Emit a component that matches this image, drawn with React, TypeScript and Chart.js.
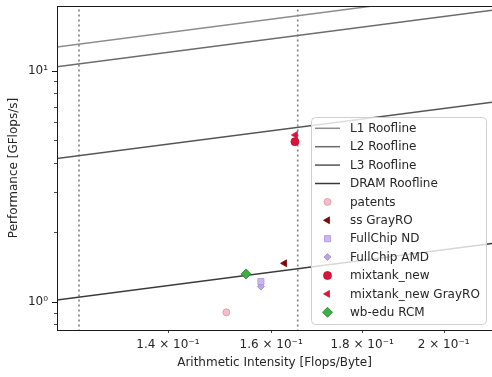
import React, { useEffect, useRef } from 'react';
import { Chart, registerables } from 'chart.js';

Chart.register(...registerables);

// ---- data ----
const intensityRange = [0.12, 0.22];
const l1Perf = [12.56, 23.03];
const l2Perf = [10.32, 18.92];
const l3Perf = [4.13, 7.57];
const dramPerf = [1.008, 1.848];
const ridgeX = [0.1248, 0.1656];
const perfSpan = [0.5, 30];

const rooflineNames = ['L1 Roofline', 'L2 Roofline', 'L3 Roofline', 'DRAM Roofline'];
const kernelNames = ['patents', 'ss GrayRO', 'FullChip ND', 'FullChip AMD', 'mixtank_new', 'mixtank_new GrayRO', 'wb-edu RCM'];
const kernelAI = [0.151, 0.1628, 0.1579, 0.1579, 0.165, 0.1651, 0.1549];
const kernelPerf = [0.902, 1.47, 1.224, 1.165, 4.94, 5.28, 1.322];

const xTicks = [0.14, 0.16, 0.18, 0.2];
const xTickLabels = ['1.4 × 10⁻¹', '1.6 × 10⁻¹', '1.8 × 10⁻¹', '2 × 10⁻¹'];
const yMajor = [1, 10];
const yMajorLabels = ['10⁰', '10¹'];
const yMinor = [0.8, 0.9, 2, 3, 4, 5, 6, 7, 8, 9];

const xMin = 0.1213;
const xMax = 0.2129;
const yMin = 0.756;
const yMax = 19.1;

// ---- styles ----
const FONT = '"DejaVu Sans", sans-serif';
const TEXT = '#262626';
const lineColors = ['#8c8c8c', '#6b6b6b', '#555555', '#3a3a3a'];
type Mk = { style: string; r: number; fill: string; stroke: string; rot: number };
const kernelStyles: Mk[] = [
  { style: 'circle', r: 3.5, fill: '#f6bccb', stroke: '#d895a6', rot: 0 },
  { style: 'triangle', r: 4, fill: '#7a0a0a', stroke: '#7a0a0a', rot: -90 },
  { style: 'rect', r: 4.3, fill: '#cbb6f2', stroke: '#a892dc', rot: 0 },
  { style: 'rectRot', r: 3.5, fill: '#b9a6e2', stroke: '#9a86cc', rot: 0 },
  { style: 'circle', r: 4, fill: '#dc143c', stroke: '#b80f30', rot: 0 },
  { style: 'triangle', r: 4, fill: '#dc143c', stroke: '#dc143c', rot: -90 },
  { style: 'rectRot', r: 5, fill: '#3cb043', stroke: '#2a7d30', rot: 0 },
];

function drawMarker(ctx: CanvasRenderingContext2D, m: Mk, x: number, y: number) {
  ctx.save();
  ctx.fillStyle = m.fill;
  ctx.strokeStyle = m.stroke;
  ctx.lineWidth = 0.8;
  ctx.beginPath();
  const r = m.r;
  if (m.style === 'circle') {
    ctx.arc(x, y, r, 0, Math.PI * 2);
  } else if (m.style === 'rect') {
    const s = Math.SQRT1_2 * r;
    ctx.rect(x - s, y - s, 2 * s, 2 * s);
  } else if (m.style === 'rectRot') {
    ctx.moveTo(x, y - r);
    ctx.lineTo(x + r, y);
    ctx.lineTo(x, y + r);
    ctx.lineTo(x - r, y);
    ctx.closePath();
  } else if (m.style === 'triangle') {
    let rad = (m.rot * Math.PI) / 180;
    ctx.moveTo(x + Math.sin(rad) * r, y - Math.cos(rad) * r);
    rad += (2 * Math.PI) / 3;
    ctx.lineTo(x + Math.sin(rad) * r, y - Math.cos(rad) * r);
    rad += (2 * Math.PI) / 3;
    ctx.lineTo(x + Math.sin(rad) * r, y - Math.cos(rad) * r);
    ctx.closePath();
  }
  ctx.fill();
  ctx.stroke();
  ctx.restore();
}

const decorPlugin = {
  id: 'decor',
  afterDraw(chart: any) {
    const ctx: CanvasRenderingContext2D = chart.ctx;
    const { left, right, top, bottom } = chart.chartArea;
    const xs = chart.scales.x;
    const ys = chart.scales.y;
    ctx.save();
    // spines
    ctx.strokeStyle = '#1a1a1a';
    ctx.lineWidth = 1;
    ctx.beginPath();
    ctx.moveTo(left + 0.5, top);
    ctx.lineTo(left + 0.5, bottom);
    ctx.moveTo(left, top + 0.5);
    ctx.lineTo(right, top + 0.5);
    ctx.moveTo(left, bottom + 0.5);
    ctx.lineTo(right, bottom + 0.5);
    ctx.stroke();
    // ticks
    const tick = (isX: boolean, v: number, len: number, w: number) => {
      ctx.lineWidth = w;
      ctx.beginPath();
      if (isX) {
        const p = Math.round(xs.getPixelForValue(v)) + 0.5;
        ctx.moveTo(p, bottom);
        ctx.lineTo(p, bottom + len);
      } else {
        const p = Math.round(ys.getPixelForValue(v)) + 0.5;
        ctx.moveTo(left, p);
        ctx.lineTo(left - len, p);
      }
      ctx.stroke();
    };
    xTicks.forEach((v) => tick(true, v, 3, 0.8));
    yMajor.forEach((v) => tick(false, v, 5, 1));
    yMinor.forEach((v) => tick(false, v, 3, 0.8));
    // tick labels
    ctx.fillStyle = TEXT;
    ctx.font = `12px ${FONT}`;
    ctx.textBaseline = 'middle';
    ctx.textAlign = 'center';
    xTicks.forEach((v, i) => ctx.fillText(xTickLabels[i], xs.getPixelForValue(v), 345));
    ctx.textAlign = 'right';
    yMajor.forEach((v, i) => ctx.fillText(yMajorLabels[i], left - 9, ys.getPixelForValue(v)));
    // axis titles
    ctx.textAlign = 'center';
    ctx.fillText('Arithmetic Intensity [Flops/Byte]', (left + right) / 2, 363);
    ctx.save();
    ctx.translate(14, (top + bottom) / 2);
    ctx.rotate(-Math.PI / 2);
    ctx.fillText('Performance [GFlops/s]', 0, 0);
    ctx.restore();
    // legend
    const bx = 311.5, by = 117.5, bw = 175, bh = 207, br = 4;
    ctx.beginPath();
    ctx.moveTo(bx + br, by);
    ctx.lineTo(bx + bw - br, by);
    ctx.arcTo(bx + bw, by, bx + bw, by + br, br);
    ctx.lineTo(bx + bw, by + bh - br);
    ctx.arcTo(bx + bw, by + bh, bx + bw - br, by + bh, br);
    ctx.lineTo(bx + br, by + bh);
    ctx.arcTo(bx, by + bh, bx, by + bh - br, br);
    ctx.lineTo(bx, by + br);
    ctx.arcTo(bx, by, bx + br, by, br);
    ctx.closePath();
    ctx.fillStyle = 'rgba(255,255,255,0.8)';
    ctx.fill();
    ctx.strokeStyle = '#d0d0d0';
    ctx.lineWidth = 1;
    ctx.stroke();
    const labels = [...rooflineNames, ...kernelNames];
    labels.forEach((lab, i) => {
      const y = 128.3 + i * 18.4;
      if (i < 4) {
        ctx.strokeStyle = lineColors[i];
        ctx.lineWidth = 1.5;
        ctx.beginPath();
        ctx.moveTo(315, y);
        ctx.lineTo(340, y);
        ctx.stroke();
      } else {
        drawMarker(ctx, kernelStyles[i - 4], 327.5, y);
      }
      ctx.fillStyle = TEXT;
      ctx.font = `12px ${FONT}`;
      ctx.textAlign = 'left';
      ctx.textBaseline = 'middle';
      ctx.fillText(lab, 350, y + 0.5);
    });
    ctx.restore();
  },
};

export default function App() {
  const canvasRef = useRef<HTMLCanvasElement | null>(null);

  useEffect(() => {
    document.body.style.margin = '0';
    const canvas = canvasRef.current;
    if (!canvas) return;

    const roofs = [l1Perf, l2Perf, l3Perf, dramPerf];
    const lineSets = roofs.map((perf, i) => ({
      type: 'scatter' as const,
      label: rooflineNames[i],
      data: intensityRange.map((ai, j) => ({ x: ai, y: perf[j] })),
      showLine: true,
      borderColor: lineColors[i],
      borderWidth: 1.5,
      pointRadius: 0,
      order: 10,
    }));
    const ridgeSets = ridgeX.map((rx) => ({
      type: 'scatter' as const,
      label: 'ridge',
      data: perfSpan.map((p) => ({ x: rx, y: p })),
      showLine: true,
      borderColor: '#7f7f7f',
      borderWidth: 1.6,
      borderDash: [2, 3],
      pointRadius: 0,
      order: 11,
    }));
    const kernelSets = kernelNames.map((name, i) => ({
      type: 'scatter' as const,
      label: name,
      data: [{ x: kernelAI[i], y: kernelPerf[i] }],
      pointStyle: kernelStyles[i].style,
      pointRadius: kernelStyles[i].r,
      pointRotation: kernelStyles[i].rot,
      backgroundColor: kernelStyles[i].fill,
      borderColor: kernelStyles[i].stroke,
      borderWidth: 0.8,
      order: 1,
    }));

    const chart = new Chart(canvas, {
      type: 'scatter',
      data: { datasets: [...kernelSets, ...lineSets, ...ridgeSets] as any },
      options: {
        animation: false,
        responsive: false,
        maintainAspectRatio: false,
        layout: { autoPadding: false, padding: { top: 6, right: 0, left: 0, bottom: 0 } },
        plugins: { legend: { display: false }, tooltip: { enabled: false } },
        scales: {
          x: {
            type: 'logarithmic',
            min: xMin,
            max: xMax,
            grid: { display: false, drawTicks: false },
            border: { display: false },
            ticks: { display: false },
            afterFit: (s: any) => {
              s.height = 47;
              s.paddingLeft = 0;
              s.paddingRight = 0;
            },
          },
          y: {
            type: 'logarithmic',
            min: yMin,
            max: yMax,
            grid: { display: false, drawTicks: false },
            border: { display: false },
            ticks: { display: false },
            afterFit: (s: any) => {
              s.width = 57;
              s.paddingTop = 0;
              s.paddingBottom = 0;
            },
          },
        },
      },
      plugins: [decorPlugin],
    });
    return () => chart.destroy();
  }, []);

  return (
    <div style={{ position: 'absolute', left: 0, top: 0, width: 492, height: 377 }}>
      <canvas ref={canvasRef} width={492} height={377} style={{ width: 492, height: 377 }} />
    </div>
  );
}
